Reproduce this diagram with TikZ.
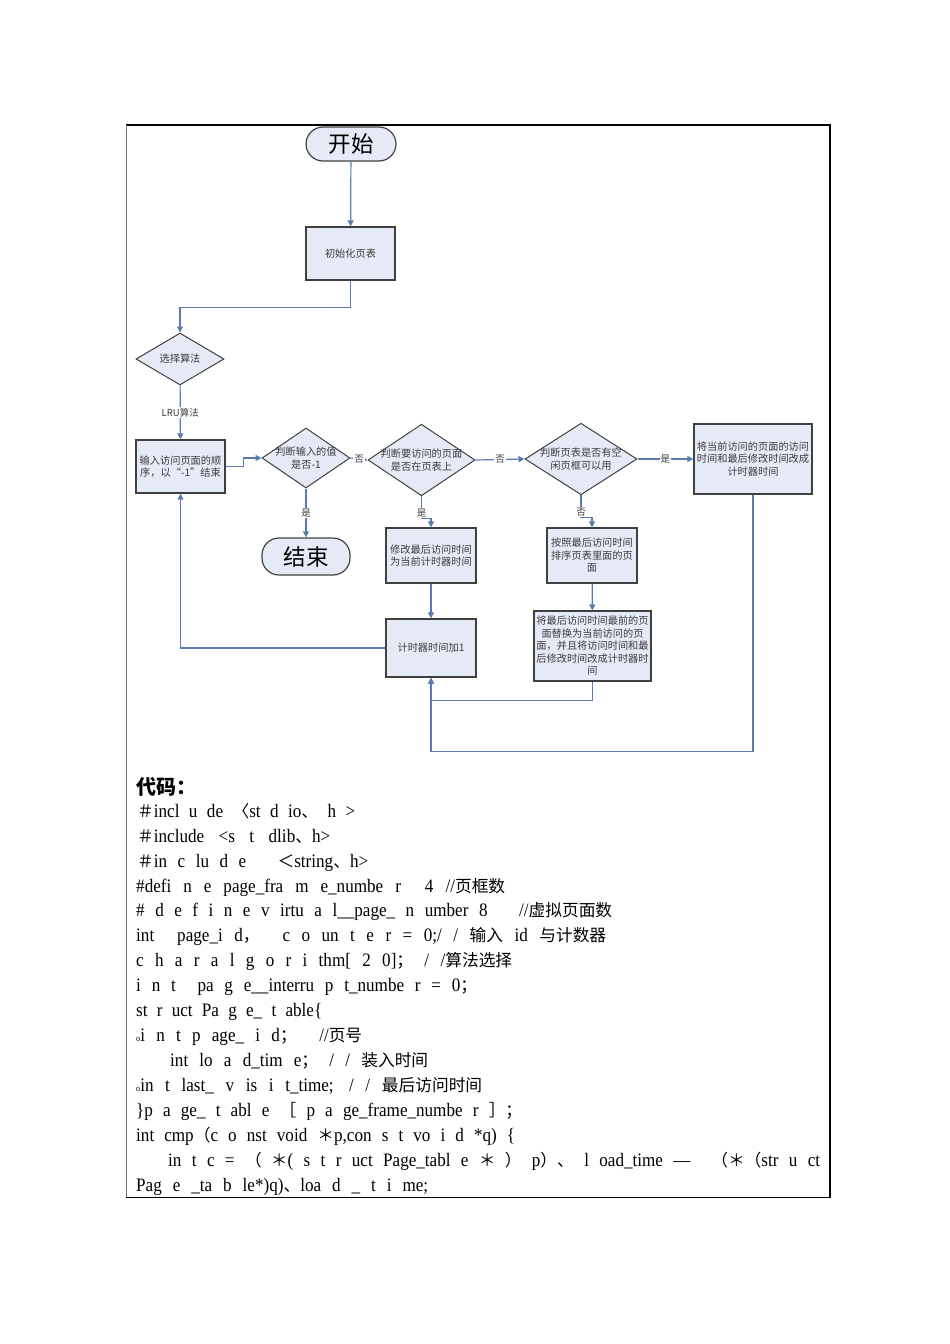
\documentclass[tikz,border=0pt]{standalone}
\usepackage{fontspec}
\setmainfont{Liberation Serif}[FakeStretch=0.9]
\newfontfamily\cjk{Noto Sans CJK SC}
\newfontfamily\cjkcode{Noto Sans CJK SC}[Scale=0.88]
\newcommand\zh[1]{{\cjkcode #1}}
\newcommand\cl[2]{\makebox[#1pt][s]{#2}}
\usetikzlibrary{shapes.geometric,arrows.meta}

\definecolor{flowblue}{RGB}{88,124,176}
\definecolor{boxfill}{RGB}{230,234,246}
\definecolor{boxline}{RGB}{64,64,64}
\definecolor{textgray}{RGB}{60,60,60}

\tikzset{
  flow/.style={draw=flowblue,line width=1.2pt},
  flowarrow/.style={flow,-{Triangle[width=6pt,length=6pt]}},
  procbox/.style={rectangle,draw=boxline,fill=boxfill,line width=1.3pt,
    inner sep=0pt,align=center,text=textgray,
    font=\cjk\fontsize{10.2}{12.5}\selectfont},
  decision/.style={diamond,draw=boxline,fill=boxfill,line width=1pt,
    inner sep=-8pt,align=center,text=textgray,
    font=\cjk\fontsize{10.2}{12.5}\selectfont},
  terminal/.style={rectangle,rounded corners=17pt,draw=boxline,fill=boxfill,
    line width=1.2pt,font=\cjk\fontsize{22.5}{24}\selectfont},
  flowlabel/.style={fill=white,inner sep=1pt,text=textgray,
    font=\cjk\fontsize{9.5}{10}\selectfont},
  codeline/.style={anchor=base west,inner sep=0pt,font=\fontsize{19}{20}\selectfont},
}

\begin{document}
\begin{tikzpicture}[x=1pt,y=-1pt]
\useasboundingbox (0,0) rectangle (950,1344);
% page frame
\draw[line width=2pt] (126,125) -- (831,125);
\draw[line width=0.8pt,black!55] (126.5,125) -- (126.5,1197);
\draw[line width=2pt] (829.5,125) -- (829.5,1197);
\draw[line width=1pt] (126,1197) -- (831,1197);
% flowchart nodes
\node[terminal,minimum width=90pt,minimum height=34pt] (start) at (351,144) {开始};
\node[procbox,minimum width=89pt,minimum height=53pt] (init) at (350.5,253.5) {初始化页表};
\node[decision,minimum width=88pt,minimum height=52pt] (algo) at (180,359) {选择算法};
\node[procbox,minimum width=89pt,minimum height=53pt] (input) at (180.5,466.5)
  {输入访问页面的顺\\序，以“-1”结束};
\node[decision,minimum width=88pt,minimum height=60pt] (chkend) at (306,458)
  {判断输入的值\\是否-1};
\node[decision,minimum width=107pt,minimum height=66pt] (inpt) at (421.5,460)
  {判断要访问的页面\\是否在页表上};
\node[decision,minimum width=112pt,minimum height=68pt] (free) at (581,459)
  {判断页表是否有空\\闲页框可以用};
\node[procbox,minimum width=118pt,minimum height=70pt] (upd) at (753,459)
  {将当前访问的页面的访问\\时间和最后修改时间改成\\计时器时间};
\node[terminal,minimum width=88pt,minimum height=37pt] (stop) at (306,556.5) {结束};
\node[procbox,minimum width=90pt,minimum height=55pt] (mod) at (431,555.5)
  {修改最后访问时间\\为当前计时器时间};
\node[procbox,minimum width=90pt,minimum height=55pt] (sort) at (592,555.5)
  {按照最后访问时间\\排序页表里面的页\\面};
\node[procbox,minimum width=90pt,minimum height=58pt] (timer) at (431,648) {计时器时间加1};
\node[procbox,minimum width=117pt,minimum height=70pt] (repl) at (592.5,646)
  {将最后访问时间最前的页\\面替换为当前访问的页\\面，并且将访问时间和最\\后修改时间改成计时器时\\间};
% connectors
\draw[flowarrow] (start) -- (init);
\draw[flowarrow] (init.south) -- ++(0,27) -| (algo.north);
\draw[flowarrow] (algo) -- node[flowlabel] {LRU算法} (input);
\draw[flowarrow] (input.east) -- ++(18,0) |- (chkend.west);
\draw[flowarrow] (chkend.east) -- node[flowlabel] {否} (inpt.west);
\draw[flowarrow] (inpt.east) -- node[flowlabel] {否} (free.west);
\draw[flowarrow] (free.east) -- node[flowlabel] {是} (upd.west);
\draw[flowarrow] (chkend.south) -- node[flowlabel] {是} (stop.north);
\draw[flowarrow] (inpt.south) -- node[flowlabel,pos=0.75] {是} ++(0,22) -| (mod.north);
\draw[flowarrow] (free.south) -- node[flowlabel,pos=0.75] {否} ++(0,22) -| (sort.north);
\draw[flowarrow] (mod) -- (timer);
\draw[flowarrow] (sort) -- (repl);
\draw[flowarrow] (repl.south) -- ++(0,19) -| (timer.south);
\draw[flowarrow] (upd.south) |- ([yshift=-74pt]timer.south) -- (timer.south);
\draw[flowarrow] (timer.west) -| (input.south);
% code listing
\node[anchor=base west,inner sep=0pt,font=\cjk\bfseries\fontsize{20}{22}\selectfont] (codehead) at (136,794) {代码：};
\node[codeline] (c1) at (137,817) {\cl{218}{\zh{＃}incl u de \zh{〈}st d io\zh{、} h >}};
\node[codeline] (c2) at (137,842) {\cl{193}{\zh{＃}include <s t dlib\zh{、}h>}};
\node[codeline] (c3) at (137,867) {\cl{231}{\zh{＃}in c lu d e \ \ \zh{＜}string\zh{、}h>}};
\node[codeline] (c4) at (136,892) {\cl{369}{\#defi n e page\_fra m e\_numbe r \ 4 //\zh{页框数}}};
\node[codeline] (c5) at (136,916) {\cl{476}{\# d e f i n e v irtu a l\_\_page\_ n umber 8 \ \ //\zh{虚拟页面数}}};
\node[codeline] (c6) at (136,941) {\cl{470}{int \ page\_i d\zh{，} \ c o un t e r = 0;/ / \zh{输入} id \zh{与计数器}}};
\node[codeline] (c7) at (136,966) {\cl{376}{c h a r a l g o r i thm[ 2 0]\zh{；} / /\zh{算法选择}}};
\node[codeline] (c8) at (136,991) {\cl{341}{i n t \ pa g e\_\_interru p t\_numbe r = 0\zh{；}}};
\node[codeline] (c9) at (136,1016) {\cl{186}{st r uct Pa g e\_ t able\{}};
\node[codeline] (c10) at (136,1041) {\cl{226}{{\fontsize{9}{9}\selectfont o}i n t p age\_ i d\zh{；} \ //\zh{页号}}};
\node[codeline] (c11) at (170,1066) {\cl{258}{int lo a d\_tim e\zh{；} / / \zh{装入时间}}};
\node[codeline] (c12) at (136,1091) {\cl{346}{{\fontsize{9}{9}\selectfont o}in t last\_ v is i t\_time; / / \zh{最后访问时间}}};
\node[codeline] (c13) at (136,1116) {\cl{386}{\}p a ge\_ t abl e \zh{［} p a ge\_frame\_numbe r \zh{］；}}};
\node[codeline] (c14) at (136,1141) {\cl{379}{int cmp\zh{（}c o nst void \zh{＊}p,con s t vo i d *q) \{}};
\node[codeline] (c15) at (168,1166) {\cl{652}{in t c = \zh{（ ＊}( s t r uct Page\_tabl e \zh{＊ ）} p\zh{）、} l oad\_time — \ \zh{（＊（}str u ct}};
\node[codeline] (c16) at (136,1191) {\cl{292}{Pag e \_ta b le*)q)\zh{、}loa d \_ t i me;}};
\end{tikzpicture}
\end{document}
